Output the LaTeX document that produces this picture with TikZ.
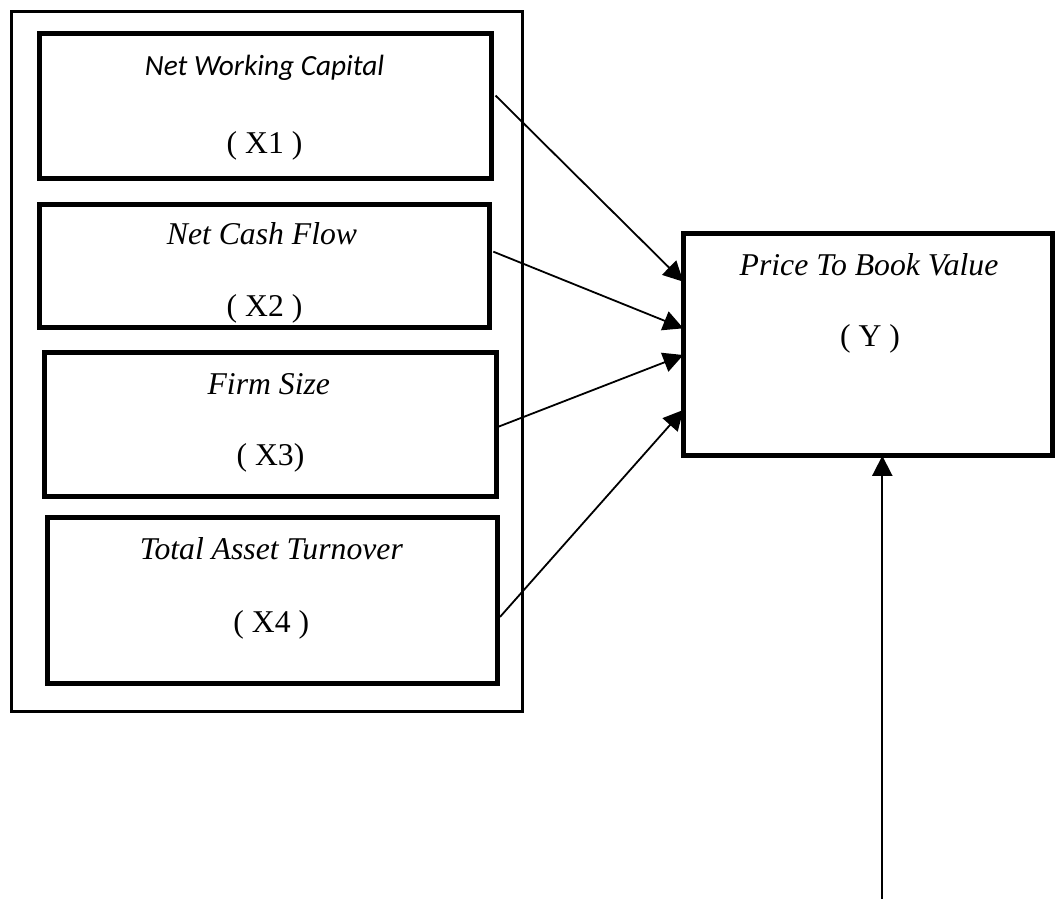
\documentclass[tikz,border=0pt]{standalone}
\usepackage{fontspec}
\setmainfont{Liberation Serif}
\newfontfamily\calibri{Carlito}
\usepackage{tikz}
\usetikzlibrary{calc}
\usetikzlibrary{arrows.meta}

\tikzset{
	box/.style={draw, rectangle, line width=5pt, outer sep=0pt, inner sep=0pt},
	grpbox/.style={draw, rectangle, line width=3pt, outer sep=0pt, inner sep=0pt},
	lbl/.style={anchor=base, inner sep=0pt, font=\fontsize{31.7}{38}\selectfont},
	arr/.style={line width=1.8pt, -{Triangle[length=20pt,width=20pt]}}
}

\begin{document}
\begin{tikzpicture}[x=1pt, y=-1pt]
				\useasboundingbox (0,0) rectangle (1055,899);

				\node[grpbox, minimum width=510.5pt, minimum height=699pt] (grp) at (266.75, 361.5) {};
				\node[box, minimum width=451.5pt, minimum height=144.5pt] (x1) at (265.25, 106.25) {};
				\node[box, minimum width=450pt, minimum height=123.5pt] (x2) at (264.5, 265.75) {};
				\node[box, minimum width=451.2pt, minimum height=144pt] (x3) at (270.4, 424.3) {};
				\node[box, minimum width=450.5pt, minimum height=166pt] (x4) at (272.55, 600) {};
				\node[box, minimum width=369.2pt, minimum height=222.5pt] (y) at (867.9, 344.55) {};

				\node[lbl, font=\fontsize{29.3}{36}\selectfont\calibri\itshape] (t1) at (264.5, 76) {Net Working Capital};
				\node[lbl] (v1) at (264.5, 153.8) {( X1 )};
				\node[lbl] (t2) at (262, 244) {\itshape Net Cash Flow};
				\node[lbl] (v2) at (264.5, 316.8) {( X2 )};
				\node[lbl] (t3) at (268.8, 394) {\itshape Firm Size};
				\node[lbl] (v3) at (270.5, 465) {( X3)};
				\node[lbl] (t4) at (271.3, 559.4) {\itshape Total Asset Turnover};
				\node[lbl] (v4) at (271.3, 632) {( X4 )};
				\node[lbl] (ty) at (869, 275) {\itshape Price To Book Value};
				\node[lbl] (vy) at (870, 346.7) {( Y )};

				\coordinate (s1) at ($(x1.north east)!0.4256!(x1.south east)+(4.5,0)$);
				\coordinate (s2) at ($(x2.north east)!0.386!(x2.south east)+(3.8,0)$);
				\coordinate (s3) at ($(x3.north east)!0.517!(x3.south east)+(2.3,0)$);
				\coordinate (s4) at ($(x4.north east)!0.602!(x4.south east)+(2.2,0)$);
				\coordinate (yin) at (882.3, 899);

				\draw[arr] (s1) -- ($(y.north west)!0.2175!(y.south west)$);
				\draw[arr] (s2) -- ($(y.north west)!0.427!(y.south west)$);
				\draw[arr] (s3) -- ($(y.north west)!0.547!(y.south west)$);
				\draw[arr] (s4) -- ($(y.north west)!0.794!(y.south west)$);
				\draw[arr] (yin) -- (yin |- y.south);

			\end{tikzpicture}
\end{document}
